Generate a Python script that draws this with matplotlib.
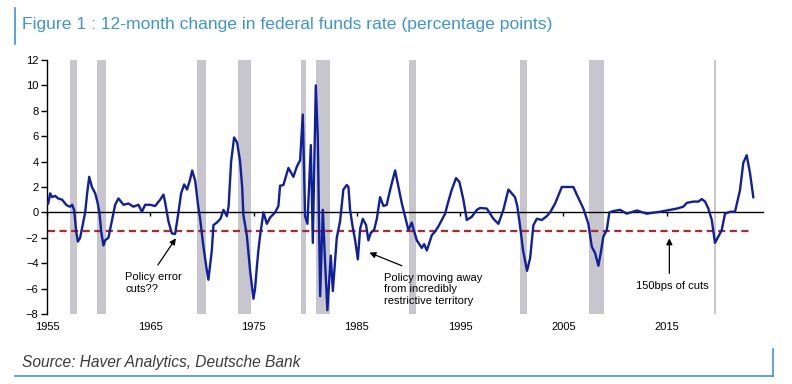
import matplotlib
matplotlib.use("Agg")
import matplotlib.pyplot as plt
from matplotlib.lines import Line2D

# 12-month change in fed funds rate (decimal years, pp)
years = [1955.12, 1955.31, 1955.50, 1955.79, 1956.08, 1956.47, 1956.86, 1957.05, 1957.25, 1957.44,
         1957.63, 1957.83, 1957.99, 1958.21, 1958.41, 1958.70, 1958.89, 1959.09, 1959.35, 1959.67,
         1959.89, 1960.08, 1960.25, 1960.47, 1960.63, 1960.95, 1961.28, 1961.60, 1961.92, 1962.41,
         1962.89, 1963.37, 1963.86, 1964.19, 1964.51, 1964.99, 1965.47, 1965.96, 1966.28, 1966.44,
         1966.76, 1967.09, 1967.41, 1967.73, 1967.99, 1968.28, 1968.57, 1968.86, 1969.06, 1969.35,
         1969.64, 1969.83, 1970.12, 1970.41, 1970.63, 1970.96, 1971.12, 1971.45, 1971.80, 1972.09,
         1972.42, 1972.59, 1972.83, 1973.12, 1973.41, 1973.70, 1973.90, 1974.02, 1974.35, 1974.67,
         1974.99, 1975.15, 1975.32, 1975.47, 1975.64, 1975.96, 1976.29, 1976.61, 1977.09, 1977.41,
         1977.57, 1977.89, 1978.38, 1978.86, 1979.19, 1979.51, 1979.77, 1979.99, 1980.22, 1980.55,
         1980.74, 1981.03, 1981.22, 1981.45, 1981.71, 1981.93, 1982.15, 1982.48, 1982.68, 1983.06,
         1983.38, 1983.70, 1984.03, 1984.19, 1984.35, 1984.61, 1984.84, 1985.10, 1985.32, 1985.58,
         1985.90, 1986.12, 1986.36, 1986.67, 1986.94, 1987.25, 1987.58, 1987.90, 1988.06, 1988.39,
         1988.71, 1989.03, 1989.36, 1989.68, 1990.00, 1990.32, 1990.48, 1990.81, 1991.29, 1991.52,
         1991.78, 1992.26, 1992.58, 1992.90, 1993.23, 1993.55, 1993.84, 1994.20, 1994.61, 1994.93,
         1995.32, 1995.65, 1996.13, 1996.62, 1996.94, 1997.59, 1998.22, 1998.71, 1999.19, 1999.68,
         2000.00, 2000.32, 2000.55, 2000.81, 2001.10, 2001.48, 2001.78, 2002.10, 2002.43, 2002.91,
         2003.39, 2003.71, 2004.20, 2004.85, 2005.97, 2006.30, 2006.94, 2007.42, 2007.75, 2008.07,
         2008.39, 2008.62, 2008.87, 2009.20, 2009.45, 2009.84, 2010.49, 2011.14, 2012.11, 2013.07,
         2014.36, 2015.33, 2015.98, 2016.62, 2016.95, 2017.58, 2018.07, 2018.40, 2018.72, 2019.04,
         2019.37, 2019.68, 2020.00, 2020.33, 2020.65, 2021.13, 2021.62, 2022.10, 2022.42, 2022.75,
         2023.07, 2023.39]
change = [0.7, 1.5, 1.2, 1.3, 1.1, 1.0, 0.6, 0.5, 0.45, 0.6,
          0.2, -1.5, -2.3, -2.0, -1.2, 0.0, 1.5, 2.8, 2.0, 1.5,
          0.8, 0.0, -1.5, -2.6, -2.2, -2.0, -0.7, 0.6, 1.1, 0.6,
          0.7, 0.45, 0.6, 0.05, 0.6, 0.6, 0.5, 1.0, 1.4, 0.8,
          -0.7, -1.65, -1.7, 0.0, 1.5, 2.2, 1.8, 2.6, 3.3, 2.5,
          0.5, -0.5, -2.5, -4.2, -5.3, -3.0, -1.0, -0.8, -0.5, 0.2,
          -0.3, 0.5, 4.0, 5.9, 5.5, 4.0, 2.0, -0.2, -1.8, -4.6,
          -6.8, -6.0, -4.3, -3.0, -1.8, 0.0, -0.9, -0.4, 0.0, 0.5,
          2.1, 2.15, 3.5, 2.8, 3.6, 4.1, 7.7, -0.3, -0.9, 5.3,
          -2.4, 10.0, 6.0, -6.6, 0.2, -4.0, -7.7, -3.4, -6.2, -2.0,
          -0.7, 1.8, 2.15, 2.0, 0.2, -1.2, -2.2, -3.7, -1.3, -0.5,
          -1.0, -2.2, -1.6, -1.4, -0.5, 1.2, 0.5, 0.6, 1.2, 2.3,
          3.3, 2.0, 0.7, -0.35, -1.4, -0.8, -1.3, -2.2, -2.8, -2.5,
          -3.0, -1.8, -1.5, -1.1, -0.6, -0.1, 0.8, 1.8, 2.7, 2.4,
          1.0, -0.6, -0.35, 0.2, 0.35, 0.3, -0.5, -0.9, 0.2, 1.8,
          1.5, 1.2, 0.45, -1.1, -3.0, -4.6, -3.6, -1.0, -0.5, -0.6,
          -0.3, 0.0, 0.7, 2.0, 2.0, 1.4, 0.3, -0.9, -2.7, -3.2,
          -4.2, -3.2, -1.9, -1.4, 0.0, 0.1, 0.2, -0.1, 0.15, -0.1,
          0.05, 0.2, 0.3, 0.45, 0.75, 0.85, 0.85, 1.05, 0.85, 0.3,
          -0.6, -2.4, -1.9, -1.4, -0.1, 0.05, 0.05, 1.75, 3.9, 4.5,
          3.1, 1.2]

# recession periods (start, end) as placed on the chart
rec_start = [1957.25, 1959.89, 1969.51, 1973.48, 1979.61, 1981.06, 1990.09, 2000.81, 2007.52, 2019.62]
rec_end = [1957.89, 1960.73, 1970.41, 1974.74, 1980.09, 1982.42, 1990.74, 2001.46, 2008.94, 2019.78]

cut_level = -1.5
cut_from, cut_to = 1955.1, 2023.1

year_ticks = [1955, 1965, 1975, 1985, 1995, 2005, 2015]
y_ticks = list(range(-8, 13, 2))

navy = "#10209c"
frame_blue = "#3d95d0"

plt.rcParams['font.family'] = ['Liberation Sans', 'DejaVu Sans']

fig = plt.figure(figsize=(7.92, 3.84), dpi=100)
ax = fig.add_axes([0.0593, 0.1823, 0.9041, 0.6615])

for s, e in zip(rec_start, rec_end):
    ax.axvspan(s, e, color="#c6c6cc", lw=0, zorder=0)

ax.plot([cut_from, cut_to], [cut_level, cut_level], color="#b0282a", lw=1.6,
        linestyle=(0, (3.2, 2.0)), zorder=2)
ax.plot(years, change, color=navy, lw=1.7, zorder=3)

ax.set_xlim(1955, 2024.33)
ax.set_ylim(-8, 12)
ax.set_yticks(y_ticks)
ax.set_xticks(year_ticks)
for side in ["top", "right", "bottom"]:
    ax.spines[side].set_visible(False)
ax.spines["left"].set_linewidth(1.0)
ax.tick_params(axis="y", length=4, width=1, pad=2, labelsize=8, colors="black")
ax.tick_params(axis="x", length=0, pad=6, labelsize=8)

# zero line with decade tick marks
zero = ax.secondary_xaxis((0 - (-8)) / 20)
zero.set_xticks(year_ticks)
zero.tick_params(axis="x", direction="out", length=3, width=1, labelbottom=False, labeltop=False)
zero.spines["bottom"].set_linewidth(1.0)

arrow = dict(arrowstyle="-|>", color="black", lw=0.9, mutation_scale=9, shrinkA=0, shrinkB=0)
ax.annotate("", xy=(1967.48, -2.04), xytext=(1965.74, -4.14), arrowprops=arrow)
ax.text(1962.57, -5.55, "Policy error\ncuts??", fontsize=8, va="center", ha="left", linespacing=1.25)
ax.annotate("", xy=(1986.22, -3.17), xytext=(1989.36, -4.2), arrowprops=arrow)
ax.text(1987.68, -6.05, "Policy moving away\nfrom incredibly\nrestrictive territory",
        fontsize=8, va="center", ha="left", linespacing=1.2)
ax.annotate("", xy=(2015.26, -2.04), xytext=(2015.26, -4.8), arrowprops=arrow)
ax.text(2012.06, -5.77, "150bps of cuts", fontsize=8, va="center", ha="left")

# title and source with box lines
fig.text(22 / 792, 1 - 25 / 384, "Figure 1 : 12-month change in federal funds rate (percentage points)",
         color=frame_blue, fontsize=12.6, va="center", ha="left")
fig.add_artist(Line2D([15 / 792, 15 / 792], [1 - 8 / 384, 1 - 44 / 384], color=frame_blue, lw=1.2))
fig.text(22 / 792, 1 - 362 / 384, "Source: Haver Analytics, Deutsche Bank", color="#3a3a3a",
         fontsize=11.2, style="italic", va="center", ha="left")
fig.add_artist(Line2D([15 / 792, 773 / 792], [1 - 376 / 384, 1 - 376 / 384], color=frame_blue, lw=1.2))
fig.add_artist(Line2D([773 / 792, 773 / 792], [1 - 349 / 384, 1 - 376 / 384], color=frame_blue, lw=1.2))

fig.savefig("out.png", dpi=100)
